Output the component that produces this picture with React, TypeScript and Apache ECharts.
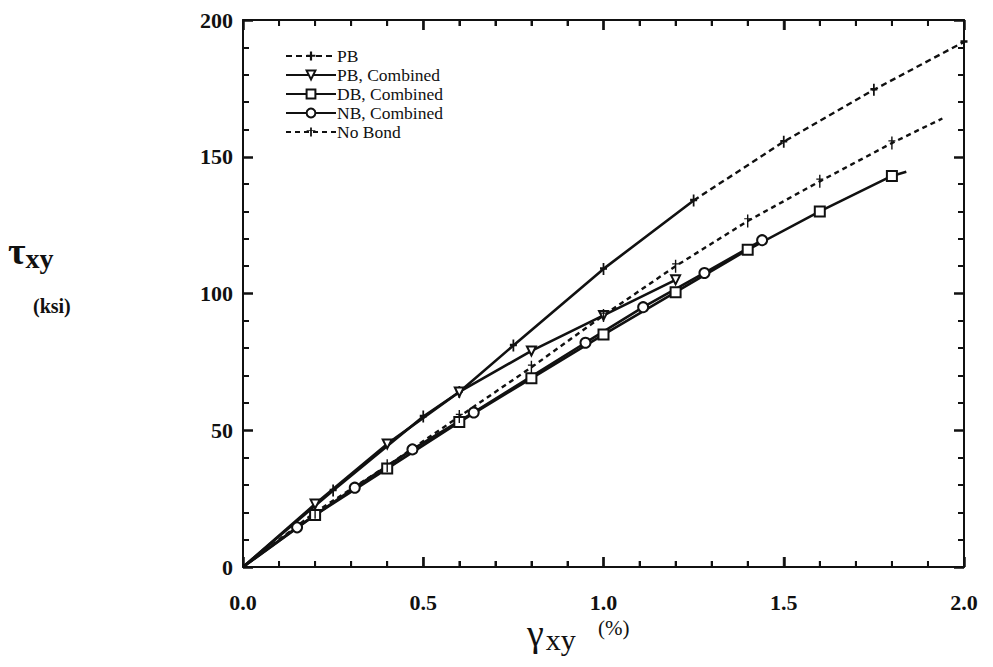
import React, { useEffect, useRef } from "react";
import * as echarts from "echarts";

// Shear strain γxy (%) vs shear stress τxy (ksi)
const pbSolid: number[][] = [[0, 0], [0.25, 28], [0.5, 55], [0.6, 64], [0.75, 81], [1.0, 109], [1.25, 134]];
const pbDashed: number[][] = [[1.25, 134], [1.5, 155.5], [1.75, 174.5], [2.0, 192]];
const pbCombined: number[][] = [[0, 0], [0.2, 23], [0.4, 45], [0.6, 64], [0.8, 79], [1.0, 92], [1.2, 105]];
const dbCombined: number[][] = [[0, 0], [0.2, 19], [0.4, 36], [0.6, 53], [0.8, 69], [1.0, 85], [1.2, 100.5], [1.4, 116], [1.6, 130], [1.8, 143], [1.84, 144.5]];
const nbCombined: number[][] = [[0, 0], [0.15, 14.5], [0.31, 29], [0.47, 43], [0.64, 56.5], [0.95, 82], [1.11, 95], [1.28, 107.5], [1.44, 119.5]];
const noBond: number[][] = [[0, 0], [0.2, 20], [0.4, 37], [0.6, 55], [0.8, 73], [1.0, 92], [1.2, 110], [1.4, 126.5], [1.6, 141], [1.8, 155], [1.94, 164]];

const legendNames = ["PB", "PB, Combined", "DB, Combined", "NB, Combined", "No Bond"];
const xTicks = { min: 0, max: 2, interval: 0.5 };
const yTicks = { min: 0, max: 200, interval: 50 };
const xMajorTicks = [0.5, 1.0, 1.5];
const xMinorTicks = [0.1, 0.2, 0.3, 0.4, 0.6, 0.7, 0.8, 0.9, 1.1, 1.2, 1.3, 1.4, 1.6, 1.7, 1.8, 1.9];

const SERIF = "'Liberation Serif', 'DejaVu Serif', serif";
const INK = "#111";

// points at the origin and curve ends carry no marker
const withMarks = (pts: number[][], skipFirst: boolean, skipLast: boolean) =>
  pts.map((p, i) => {
    const hide = (skipFirst && i === 0) || (skipLast && i === pts.length - 1);
    return hide ? { value: p, symbol: "none" } : { value: p };
  });

const tickPath = "path://M4,0 L6,0 L6,14 L4,14 Z M1,5 L9,5 L9,8 L1,8 Z";
const daggerPath = "path://M4.4,0 L5.6,0 L5.6,14 L4.4,14 Z M2,4 L8,4 L8,5.2 L2,5.2 Z";

const mkAxisLine = () => ({ show: true, onZero: false, lineStyle: { color: INK, width: 2 } });
const mkTick = () => ({ show: true, inside: true, length: 10, lineStyle: { color: INK, width: 2.5 } });
const mkMinor = () => ({ show: true, splitNumber: 5, length: 6, lineStyle: { color: INK, width: 2 } });

// tick marks along the bottom and top frame, placed through the x scale
const frameTicks = (values: number[], atY: number, len: number, down: boolean) => ({
  type: "scatter",
  name: "_frameTicks",
  silent: true,
  clip: false,
  z: 4,
  data: values.map((v) => [v, atY]),
  symbol: "rect",
  symbolSize: [2, len],
  symbolOffset: [0, down ? len / 2 : -len / 2],
  itemStyle: { color: INK },
});

export default function App() {
  const ref = useRef<HTMLDivElement>(null);
  useEffect(() => {
    if (!ref.current) return;
    const chart = echarts.init(ref.current, undefined, { renderer: "svg" });
    const lineBase = { type: "line", animation: false, z: 3 };
    chart.setOption({
      animation: false,
      backgroundColor: "#fff",
      grid: { left: 235, right: 21, top: 12, bottom: 92 },
      xAxis: [
        {
          type: "value",
          position: "bottom",
          ...xTicks,
          axisLine: mkAxisLine(),
          axisTick: mkTick(),
          minorTick: mkMinor(),
          splitLine: { show: false },
          axisLabel: {
            margin: 24,
            color: INK,
            fontFamily: SERIF,
            fontWeight: "bold",
            fontSize: 22,
            formatter: (v: number) => v.toFixed(1),
          },
        },
        {
          type: "value",
          position: "top",
          ...xTicks,
          axisLine: mkAxisLine(),
          axisTick: mkTick(),
          minorTick: mkMinor(),
          splitLine: { show: false },
          axisLabel: { show: false },
        },
      ],
      yAxis: [
        {
          type: "value",
          position: "left",
          ...yTicks,
          axisLine: mkAxisLine(),
          axisTick: mkTick(),
          minorTick: mkMinor(),
          splitLine: { show: false },
          axisLabel: {
            margin: 10,
            color: INK,
            fontFamily: SERIF,
            fontWeight: "bold",
            fontSize: 22,
          },
        },
        {
          type: "value",
          position: "right",
          ...yTicks,
          axisLine: mkAxisLine(),
          axisTick: mkTick(),
          minorTick: mkMinor(),
          splitLine: { show: false },
          axisLabel: { show: false },
        },
      ],
      legend: {
        orient: "vertical",
        left: 277,
        top: 39,
        padding: 0,
        data: legendNames,
        itemWidth: 50,
        itemHeight: 11,
        itemGap: 1,
        textStyle: { fontFamily: SERIF, fontSize: 17.5, color: INK, lineHeight: 17, padding: [0, 0, 0, -4] },
        selectedMode: false,
      },
      series: [
        {
          ...lineBase,
          name: "PB",
          data: withMarks(pbDashed, true, false),
          symbol: tickPath,
          symbolSize: [7, 12],
          itemStyle: { color: INK },
          lineStyle: { color: INK, width: 2.4, type: [6, 4] },
        },
        {
          ...lineBase,
          name: "PB",
          data: withMarks(pbSolid, true, false),
          symbol: tickPath,
          symbolSize: [7, 12],
          itemStyle: { color: INK },
          lineStyle: { color: INK, width: 2.6 },
        },
        {
          ...lineBase,
          name: "PB, Combined",
          data: withMarks(pbCombined, true, false),
          symbol: "emptyTriangle",
          symbolRotate: 180,
          symbolSize: 9,
          itemStyle: { color: INK, borderColor: INK, borderWidth: 1.8 },
          lineStyle: { color: INK, width: 2.6 },
        },
        {
          ...lineBase,
          name: "DB, Combined",
          data: withMarks(dbCombined, true, true),
          symbol: "emptyRect",
          symbolSize: 10,
          itemStyle: { color: INK, borderColor: INK, borderWidth: 2 },
          lineStyle: { color: INK, width: 2.6 },
        },
        {
          ...lineBase,
          name: "NB, Combined",
          data: withMarks(nbCombined, true, false),
          symbol: "emptyCircle",
          symbolSize: 10,
          itemStyle: { color: INK, borderColor: INK, borderWidth: 2 },
          lineStyle: { color: INK, width: 2.6 },
        },
        {
          ...lineBase,
          name: "No Bond",
          data: withMarks(noBond, true, true),
          symbol: daggerPath,
          symbolSize: [7, 13],
          itemStyle: { color: INK },
          lineStyle: { color: INK, width: 2.4, type: [5, 4] },
        },
        frameTicks(xMinorTicks, yTicks.min, 6, false),
        frameTicks(xMajorTicks, yTicks.min, 10, false),
        frameTicks(xMinorTicks, yTicks.max, 6, true),
        frameTicks(xMajorTicks, yTicks.max, 10, true),
      ],
      graphic: [
        {
          type: "text",
          left: 0,
          top: 224,
          style: {
            text: "{t|τ}{s|xy}",
            rich: {
              t: { fontFamily: SERIF, fontSize: 38, fill: INK, fontWeight: "bold" },
              s: { fontFamily: SERIF, fontSize: 28, fill: INK, fontWeight: "bold", padding: [14, 0, 0, 0] },
            },
          },
        },
        {
          type: "text",
          left: 25,
          top: 288,
          style: { text: "(ksi)", fontFamily: SERIF, fontSize: 20, fontWeight: "bold", fill: INK },
        },
        {
          type: "text",
          left: 519,
          top: 606,
          style: {
            text: "{g|γ}{s|xy}",
            rich: {
              g: { fontFamily: SERIF, fontSize: 38, fill: INK },
              s: { fontFamily: SERIF, fontSize: 30, fill: INK, padding: [12, 0, 0, 2] },
            },
          },
        },
        {
          type: "text",
          left: 590,
          top: 609,
          style: { text: "(%)", fontFamily: SERIF, fontSize: 21, fill: INK },
        },
      ],
    });
    return () => chart.dispose();
  }, []);
  return <div ref={ref} style={{ width: 977, height: 651 }} />;
}
